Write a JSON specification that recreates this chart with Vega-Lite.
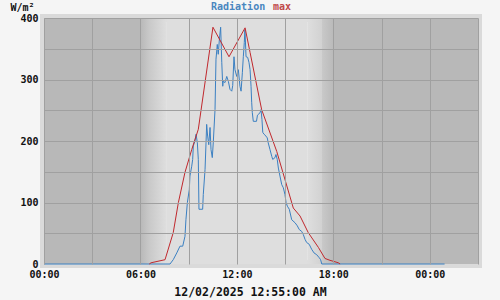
{
  "$schema": "https://vega.github.io/schema/vega-lite/v6.json",
  "autosize": "none",
  "width": 434,
  "height": 246,
  "padding": {"left": 44, "top": 18, "right": 22, "bottom": 36},
  "background": "#f5f5f5",
  "datasets": {
    "daylight": [
      {"start": 0, "end": 6.0, "phase": "night"},
      {"start": 6.0, "end": 7.6, "phase": "dawn"},
      {"start": 7.6, "end": 16.4, "phase": "day"},
      {"start": 16.4, "end": 18.0, "phase": "dusk"},
      {"start": 18.0, "end": 27, "phase": "night"}
    ],
    "solar": [
      {"series": "Radiation", "hour": 0, "value": 0},
      {"series": "Radiation", "hour": 7.84, "value": 0},
      {"series": "Radiation", "hour": 8.04, "value": 7},
      {"series": "Radiation", "hour": 8.26, "value": 18},
      {"series": "Radiation", "hour": 8.46, "value": 29},
      {"series": "Radiation", "hour": 8.63, "value": 29},
      {"series": "Radiation", "hour": 8.77, "value": 45},
      {"series": "Radiation", "hour": 8.83, "value": 72},
      {"series": "Radiation", "hour": 8.92, "value": 100},
      {"series": "Radiation", "hour": 9.04, "value": 121},
      {"series": "Radiation", "hour": 9.08, "value": 143},
      {"series": "Radiation", "hour": 9.19, "value": 159},
      {"series": "Radiation", "hour": 9.25, "value": 170},
      {"series": "Radiation", "hour": 9.29, "value": 192},
      {"series": "Radiation", "hour": 9.39, "value": 200},
      {"series": "Radiation", "hour": 9.46, "value": 211},
      {"series": "Radiation", "hour": 9.54, "value": 197},
      {"series": "Radiation", "hour": 9.60, "value": 170},
      {"series": "Radiation", "hour": 9.64, "value": 89},
      {"series": "Radiation", "hour": 9.87, "value": 89},
      {"series": "Radiation", "hour": 9.91, "value": 113},
      {"series": "Radiation", "hour": 10.02, "value": 154},
      {"series": "Radiation", "hour": 10.08, "value": 197},
      {"series": "Radiation", "hour": 10.12, "value": 227},
      {"series": "Radiation", "hour": 10.18, "value": 208},
      {"series": "Radiation", "hour": 10.25, "value": 194},
      {"series": "Radiation", "hour": 10.33, "value": 222},
      {"series": "Radiation", "hour": 10.39, "value": 186},
      {"series": "Radiation", "hour": 10.47, "value": 173},
      {"series": "Radiation", "hour": 10.53, "value": 197},
      {"series": "Radiation", "hour": 10.64, "value": 251},
      {"series": "Radiation", "hour": 10.70, "value": 333},
      {"series": "Radiation", "hour": 10.78, "value": 357},
      {"series": "Radiation", "hour": 10.84, "value": 341},
      {"series": "Radiation", "hour": 10.91, "value": 365},
      {"series": "Radiation", "hour": 10.99, "value": 385},
      {"series": "Radiation", "hour": 11.06, "value": 328},
      {"series": "Radiation", "hour": 11.12, "value": 289},
      {"series": "Radiation", "hour": 11.15, "value": 297},
      {"series": "Radiation", "hour": 11.26, "value": 295},
      {"series": "Radiation", "hour": 11.37, "value": 305},
      {"series": "Radiation", "hour": 11.47, "value": 297},
      {"series": "Radiation", "hour": 11.57, "value": 284},
      {"series": "Radiation", "hour": 11.68, "value": 281},
      {"series": "Radiation", "hour": 11.74, "value": 290},
      {"series": "Radiation", "hour": 11.82, "value": 337},
      {"series": "Radiation", "hour": 11.88, "value": 316},
      {"series": "Radiation", "hour": 11.99, "value": 305},
      {"series": "Radiation", "hour": 12.09, "value": 316},
      {"series": "Radiation", "hour": 12.19, "value": 289},
      {"series": "Radiation", "hour": 12.26, "value": 281},
      {"series": "Radiation", "hour": 12.34, "value": 311},
      {"series": "Radiation", "hour": 12.40, "value": 337},
      {"series": "Radiation", "hour": 12.46, "value": 360},
      {"series": "Radiation", "hour": 12.50, "value": 381},
      {"series": "Radiation", "hour": 12.57, "value": 337},
      {"series": "Radiation", "hour": 12.67, "value": 336},
      {"series": "Radiation", "hour": 12.75, "value": 328},
      {"series": "Radiation", "hour": 12.82, "value": 316},
      {"series": "Radiation", "hour": 12.88, "value": 289},
      {"series": "Radiation", "hour": 12.92, "value": 263},
      {"series": "Radiation", "hour": 12.96, "value": 246},
      {"series": "Radiation", "hour": 13.02, "value": 232},
      {"series": "Radiation", "hour": 13.22, "value": 232},
      {"series": "Radiation", "hour": 13.28, "value": 242},
      {"series": "Radiation", "hour": 13.44, "value": 246},
      {"series": "Radiation", "hour": 13.50, "value": 251},
      {"series": "Radiation", "hour": 13.56, "value": 235},
      {"series": "Radiation", "hour": 13.61, "value": 214},
      {"series": "Radiation", "hour": 13.69, "value": 211},
      {"series": "Radiation", "hour": 13.81, "value": 208},
      {"series": "Radiation", "hour": 13.89, "value": 205},
      {"series": "Radiation", "hour": 13.95, "value": 197},
      {"series": "Radiation", "hour": 14.06, "value": 186},
      {"series": "Radiation", "hour": 14.17, "value": 175},
      {"series": "Radiation", "hour": 14.23, "value": 170},
      {"series": "Radiation", "hour": 14.37, "value": 173},
      {"series": "Radiation", "hour": 14.43, "value": 178},
      {"series": "Radiation", "hour": 14.51, "value": 170},
      {"series": "Radiation", "hour": 14.58, "value": 156},
      {"series": "Radiation", "hour": 14.68, "value": 143},
      {"series": "Radiation", "hour": 14.79, "value": 129},
      {"series": "Radiation", "hour": 14.89, "value": 124},
      {"series": "Radiation", "hour": 14.99, "value": 113},
      {"series": "Radiation", "hour": 15.06, "value": 100},
      {"series": "Radiation", "hour": 15.14, "value": 94},
      {"series": "Radiation", "hour": 15.26, "value": 89},
      {"series": "Radiation", "hour": 15.41, "value": 72},
      {"series": "Radiation", "hour": 15.62, "value": 67},
      {"series": "Radiation", "hour": 15.76, "value": 62},
      {"series": "Radiation", "hour": 15.88, "value": 56},
      {"series": "Radiation", "hour": 16.03, "value": 53},
      {"series": "Radiation", "hour": 16.13, "value": 48},
      {"series": "Radiation", "hour": 16.24, "value": 40},
      {"series": "Radiation", "hour": 16.34, "value": 35},
      {"series": "Radiation", "hour": 16.50, "value": 32},
      {"series": "Radiation", "hour": 16.65, "value": 24},
      {"series": "Radiation", "hour": 16.80, "value": 18},
      {"series": "Radiation", "hour": 16.97, "value": 15},
      {"series": "Radiation", "hour": 17.13, "value": 10},
      {"series": "Radiation", "hour": 17.21, "value": 7},
      {"series": "Radiation", "hour": 17.28, "value": 0},
      {"series": "Radiation", "hour": 24.92, "value": 0},
      {"series": "max", "hour": 6.55, "value": 0},
      {"series": "max", "hour": 6.66, "value": 2},
      {"series": "max", "hour": 7.53, "value": 7},
      {"series": "max", "hour": 8.04, "value": 51},
      {"series": "max", "hour": 8.36, "value": 100},
      {"series": "max", "hour": 8.77, "value": 149},
      {"series": "max", "hour": 9.19, "value": 186},
      {"series": "max", "hour": 9.60, "value": 219},
      {"series": "max", "hour": 10.51, "value": 385},
      {"series": "max", "hour": 11.51, "value": 337},
      {"series": "max", "hour": 12.51, "value": 384},
      {"series": "max", "hour": 12.82, "value": 344},
      {"series": "max", "hour": 13.54, "value": 251},
      {"series": "max", "hour": 14.48, "value": 183},
      {"series": "max", "hour": 15.51, "value": 91},
      {"series": "max", "hour": 15.93, "value": 78},
      {"series": "max", "hour": 16.44, "value": 51},
      {"series": "max", "hour": 17.07, "value": 27},
      {"series": "max", "hour": 17.48, "value": 9},
      {"series": "max", "hour": 17.79, "value": 6},
      {"series": "max", "hour": 18.31, "value": 2},
      {"series": "max", "hour": 18.42, "value": 0}
    ]
  },
  "layer": [
    {
      "data": {"name": "daylight"},
      "transform": [{"filter": "datum.phase === 'night' || datum.phase === 'day'"}],
      "mark": {"type": "rect"},
      "encoding": {
        "x": {"field": "start", "type": "quantitative", "scale": {"domain": [0, 27], "nice": false, "zero": false},
              "axis": {"zindex": 1, "title": "12/02/2025 12:55:00 AM", "values": [0, 3, 6, 9, 12, 15, 18, 21, 24, 27],
                       "labelExpr": "datum.value % 6 === 0 ? ((datum.value % 24) < 10 ? '0' : '') + (datum.value % 24) + ':00' : ''"}},
        "x2": {"field": "end"},
        "fill": {"field": "phase", "type": "nominal", "scale": {"domain": ["night", "day"], "range": ["#b8b8b8", "#dedede"]}, "legend": null}
      }
    },
    {
      "data": {"name": "daylight"},
      "transform": [{"filter": "datum.phase === 'dawn'"}],
      "mark": {"type": "rect", "fill": {"gradient": "linear", "x1": 0, "y1": 0, "x2": 1, "y2": 0,
        "stops": [{"offset": 0, "color": "#b8b8b8"}, {"offset": 0.35, "color": "#c9c9c9"}, {"offset": 1, "color": "#dedede"}]}},
      "encoding": {
        "x": {"field": "start", "type": "quantitative",
              "axis": {"zindex": 1, "title": "12/02/2025 12:55:00 AM", "values": [0, 3, 6, 9, 12, 15, 18, 21, 24, 27],
                       "labelExpr": "datum.value % 6 === 0 ? ((datum.value % 24) < 10 ? '0' : '') + (datum.value % 24) + ':00' : ''"}},
        "x2": {"field": "end"}
      }
    },
    {
      "data": {"name": "daylight"},
      "transform": [{"filter": "datum.phase === 'dusk'"}],
      "mark": {"type": "rect", "fill": {"gradient": "linear", "x1": 0, "y1": 0, "x2": 1, "y2": 0,
        "stops": [{"offset": 0, "color": "#dedede"}, {"offset": 0.55, "color": "#d2d2d2"}, {"offset": 0.58, "color": "#c8c8c8"}, {"offset": 1, "color": "#bababa"}]}},
      "encoding": {
        "x": {"field": "start", "type": "quantitative",
              "axis": {"zindex": 1, "title": "12/02/2025 12:55:00 AM", "values": [0, 3, 6, 9, 12, 15, 18, 21, 24, 27],
                       "labelExpr": "datum.value % 6 === 0 ? ((datum.value % 24) < 10 ? '0' : '') + (datum.value % 24) + ':00' : ''"}},
        "x2": {"field": "end"}
      }
    },
    {
      "data": {"name": "solar"},
      "transform": [{"filter": "datum.series === 'Radiation'"}],
      "mark": {"type": "line", "strokeWidth": 1},
      "encoding": {
        "x": {"field": "hour", "type": "quantitative",
              "axis": {"zindex": 1, "title": "12/02/2025 12:55:00 AM", "values": [0, 3, 6, 9, 12, 15, 18, 21, 24, 27],
                       "labelExpr": "datum.value % 6 === 0 ? ((datum.value % 24) < 10 ? '0' : '') + (datum.value % 24) + ':00' : ''"}},
        "y": {"field": "value", "type": "quantitative", "scale": {"domain": [0, 400], "nice": false},
              "axis": {"zindex": 1, "title": "W/m²", "values": [0, 50, 100, 150, 200, 250, 300, 350, 400],
                       "labelExpr": "datum.value % 100 === 0 ? datum.label : ''"}},
        "color": {"field": "series", "type": "nominal",
                  "scale": {"domain": ["Radiation", "max"], "range": ["#3b80c2", "#c0282d"]},
                  "legend": {"orient": "none", "legendX": 167, "legendY": -16, "direction": "horizontal", "title": null,
                             "symbolSize": 0, "symbolStrokeWidth": 0, "symbolOpacity": 0, "labelOffset": -10, "columnPadding": 7, "padding": 0,
                             "labelFont": "DejaVu Sans Mono", "labelFontSize": 10, "labelFontWeight": "bold",
                             "labelColor": {"expr": "datum.label === 'max' ? '#c04a4a' : '#4a86bf'"}}}
      }
    },
    {
      "data": {"name": "solar"},
      "transform": [{"filter": "datum.series === 'max'"}],
      "mark": {"type": "line", "strokeWidth": 1},
      "encoding": {
        "x": {"field": "hour", "type": "quantitative",
              "axis": {"zindex": 1, "title": "12/02/2025 12:55:00 AM", "values": [0, 3, 6, 9, 12, 15, 18, 21, 24, 27],
                       "labelExpr": "datum.value % 6 === 0 ? ((datum.value % 24) < 10 ? '0' : '') + (datum.value % 24) + ':00' : ''"}},
        "y": {"field": "value", "type": "quantitative",
              "axis": {"zindex": 1, "title": "W/m²", "values": [0, 50, 100, 150, 200, 250, 300, 350, 400],
                       "labelExpr": "datum.value % 100 === 0 ? datum.label : ''"}},
        "color": {"field": "series", "type": "nominal",
                  "legend": {"orient": "none", "legendX": 167, "legendY": -16, "direction": "horizontal", "title": null,
                             "symbolSize": 0, "symbolStrokeWidth": 0, "symbolOpacity": 0, "labelOffset": -10, "columnPadding": 7, "padding": 0,
                             "labelFont": "DejaVu Sans Mono", "labelFontSize": 10, "labelFontWeight": "bold",
                             "labelColor": {"expr": "datum.label === 'max' ? '#c04a4a' : '#4a86bf'"}}}
      }
    }
  ],
  "config": {
    "view": {"stroke": "#dadada", "strokeWidth": 8},
    "axis": {
      "domain": false,
      "ticks": false,
      "grid": true,
      "gridColor": "#a0a0a0",
      "gridWidth": 1,
      "labelFont": "DejaVu Sans Mono",
      "labelFontSize": 10,
      "labelFontWeight": "bold",
      "labelColor": "#111111",
      "labelOverlap": false,
      "labelBound": false,
      "labelFlush": false,
      "titleFont": "DejaVu Sans Mono",
      "titleColor": "#111111"
    },
    "axisX": {
      "labelPadding": 5,
      "titleFontSize": 11.5,
      "titleFontWeight": "bold",
      "titleX": 206,
      "titleY": 31,
      "titleAlign": "center",
      "titleBaseline": "alphabetic"
    },
    "axisY": {
      "labelPadding": 6,
      "gridOpacity": {"condition": {"test": "datum.value === 0", "value": 0}, "value": 1},
      "titleFontSize": 10,
      "titleFontWeight": "bold",
      "titleAngle": 0,
      "titleAlign": "left",
      "titleBaseline": "alphabetic",
      "titleX": -34,
      "titleY": -8
    }
  }
}
